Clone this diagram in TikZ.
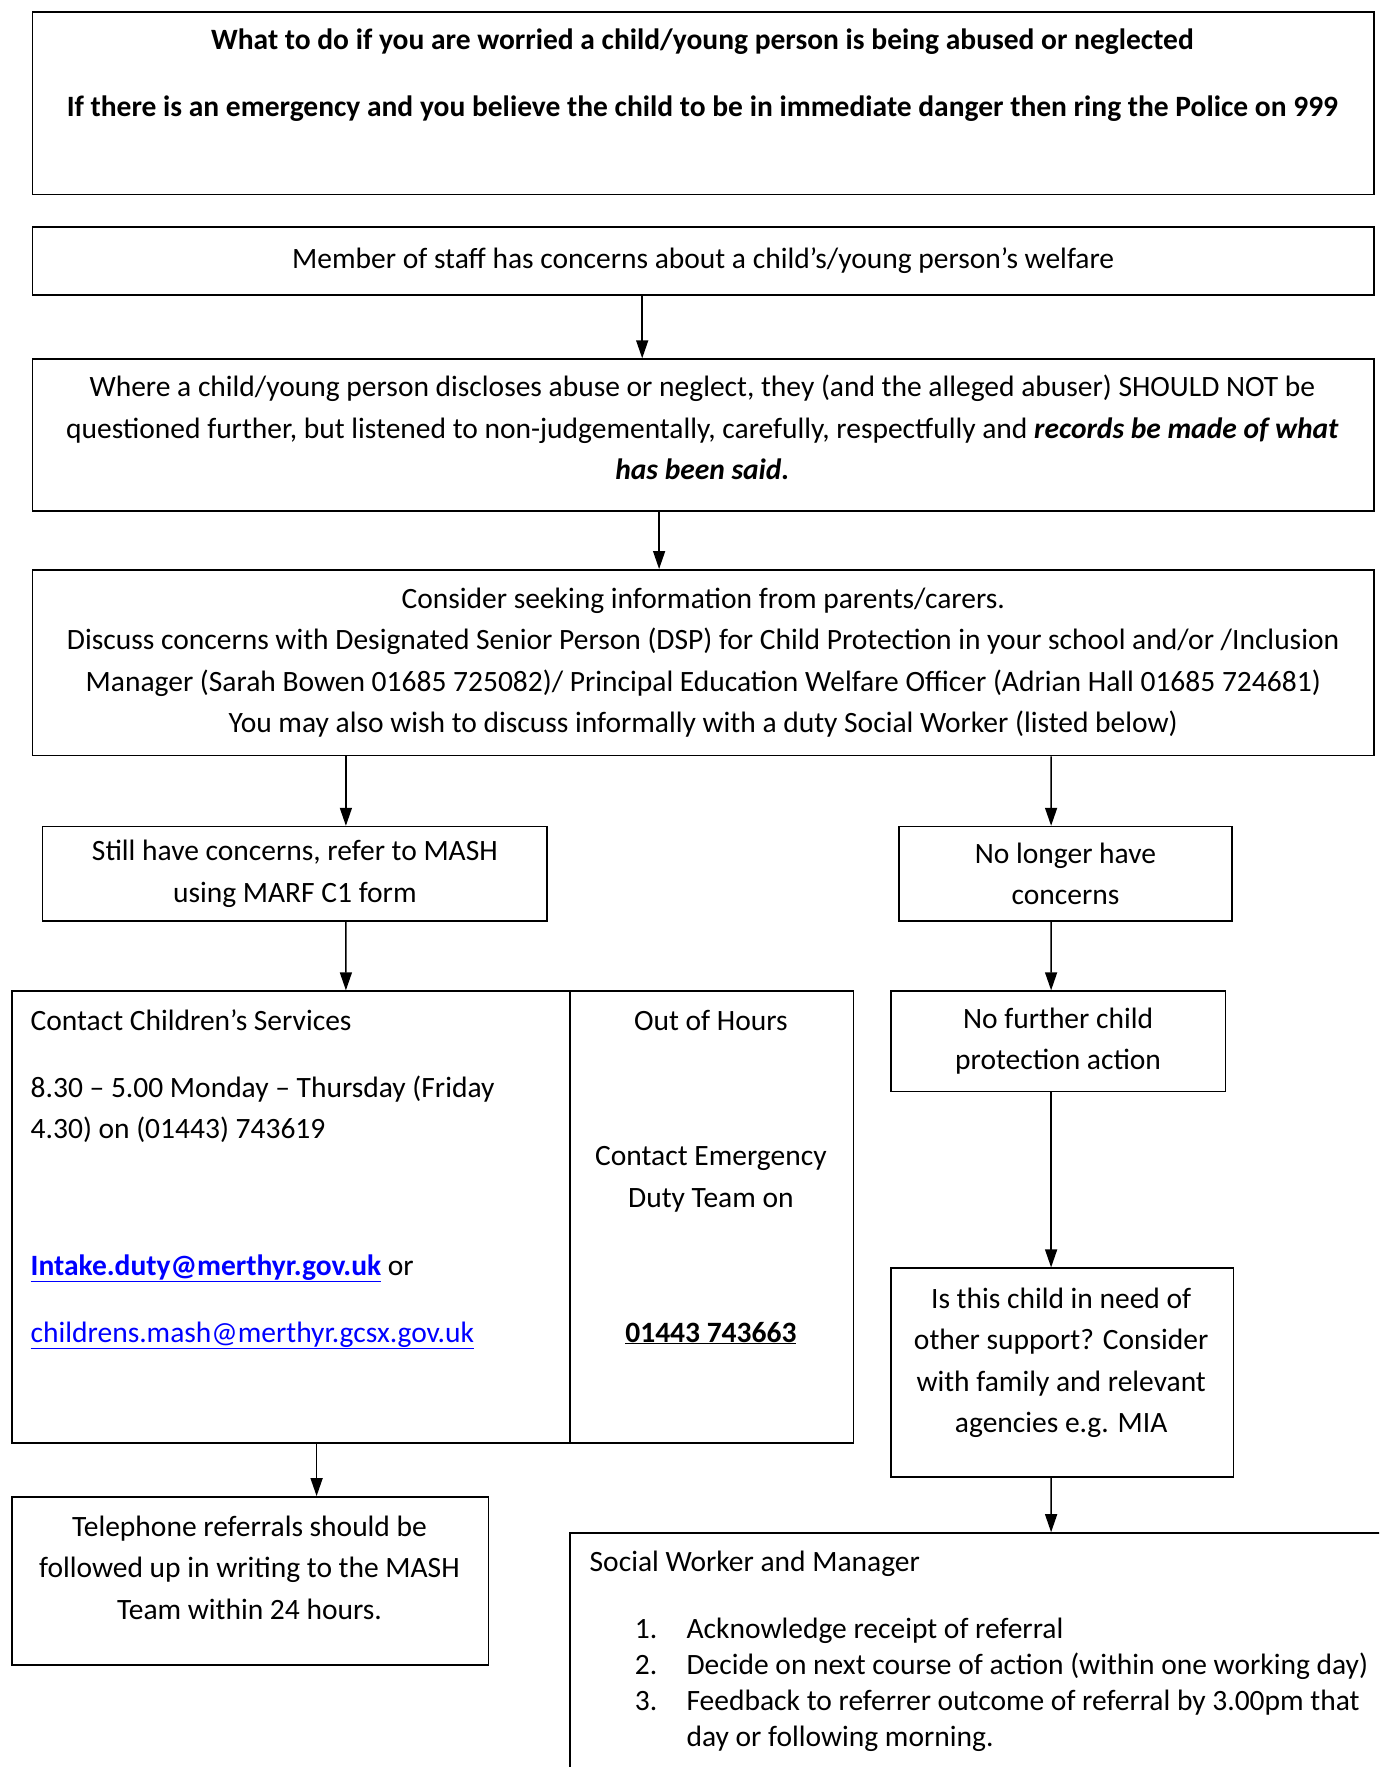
\documentclass[tikz,border=0pt]{standalone}
\usepackage{fontspec}
\setmainfont{Carlito}
\usetikzlibrary{arrows.meta}
\definecolor{lk}{RGB}{0, 0, 255}

\begin{document}
\begin{tikzpicture}[
  every node/.style={font=\fontsize{29.5pt}{41.5pt}\selectfont},
  box/.style={rectangle, draw=black, line width=1.6pt, anchor=north west, inner sep=0pt, align=center},
  txt/.style={inner sep=0pt, anchor=base},
  ltxt/.style={inner sep=0pt, anchor=base west},
  arr/.style={line width=1.5pt, -{Triangle[length=18pt, width=12pt]}}
]
\useasboundingbox (0pt, 0pt) rectangle (1379pt, -1767pt);
\node (top) [box, minimum width=1341.8pt, minimum height=182.5pt] at (31.5pt, -11.3pt) {};
\node (title) [txt] at (702.4pt, -49pt) {\textbf{What to do if you are worried a child/young person is being abused or neglected}};
\node (police) [txt] at (702.4pt, -116pt) {\textbf{If there is an emergency and you believe the child to be in immediate danger then ring the Police on 999}};
\node (staff) [box, minimum width=1341.8pt, minimum height=67.6pt] at (31.5pt, -226.4pt) {Member of staff has concerns about a child’s/young person’s welfare};
\node (disclose) [box, minimum width=1341.8pt, minimum height=152pt] at (31.5pt, -358.3pt) {};
\node (disclosetxt) [inner sep=0pt, align=center] at (702.4pt, -427.5pt) {Where a child/young person discloses abuse or neglect, they (and the alleged abuser) SHOULD NOT be\\questioned further, but listened to non-judgementally, carefully, respectfully and \textbf{\textit{records be made of what}}\\\textbf{\textit{has been said.}}};
\node (discuss) [box, minimum width=1341.8pt, minimum height=185.8pt] at (31.5pt, -569pt) {Consider seeking information from parents/carers.\\Discuss concerns with Designated Senior Person (DSP) for Child Protection in your school and/or /Inclusion\\Manager (Sarah Bowen 01685 725082)/ Principal Education Welfare Officer (Adrian Hall 01685 724681)\\You may also wish to discuss informally with a duty Social Worker (listed below)};
\node (refer) [box, minimum width=504.7pt, minimum height=94.6pt] at (41.7pt, -825.8pt) {Still have concerns, refer to MASH\\using MARF C1 form};
\node (nolonger) [box, minimum width=333.5pt, minimum height=94.6pt] at (897.9pt, -825.8pt) {No longer have\\concerns};
% contact boxes
\node (contact) [box, minimum width=557.6pt, minimum height=451.7pt] at (11.3pt, -990.3pt) {};
\node (hours) [box, minimum width=283.9pt, minimum height=451.7pt] at (568.9pt, -990.3pt) {};
\node (cs1) [ltxt] at (30.5pt, -1030pt) {Contact Children’s Services};
\node (cs2) [ltxt] at (30.5pt, -1097pt) {8.30 – 5.00 Monday – Thursday (Friday};
\node (cs3) [ltxt] at (30.5pt, -1138pt) {4.30) on (01443) 743619};
\node (cs4) [ltxt] at (30.5pt, -1275pt) {\textcolor{lk}{\underline{\textbf{Intake.duty@merthyr.gov.uk}}} or};
\node (cs5) [ltxt] at (30.5pt, -1342pt) {\textcolor{lk}{\underline{childrens.mash@merthyr.gcsx.gov.uk}}};
\node (oh1) [txt] at (710.9pt, -1030pt) {Out of Hours};
\node (oh2) [txt] at (710.9pt, -1165pt) {Contact Emergency};
\node (oh3) [txt] at (710.9pt, -1207pt) {Duty Team on};
\node (oh4) [txt] at (710.9pt, -1342pt) {\underline{\textbf{01443 743663}}};
% right column
\node (noaction) [box, minimum width=334.6pt, minimum height=100.2pt] at (890pt, -990.3pt) {No further child\\protection action};
\node (support) [box, minimum width=342.5pt, minimum height=208.5pt] at (890pt, -1267.4pt) {};
\node (supporttxt) [inner sep=0pt, align=center] at (1061.2pt, -1363pt) {Is this child in need of\\other support? Consider\\with family and relevant\\agencies e.g. MIA};
\node (phone) [box, minimum width=476.5pt, minimum height=167.9pt] at (11.3pt, -1496.1pt) {};
\node (phonetxt) [inner sep=0pt, align=center] at (249.5pt, -1567.4pt) {Telephone referrals should be\\followed up in writing to the MASH\\Team within 24 hours.};
\begin{scope}
\clip (0pt, 0pt) rectangle (1379pt, -1767pt);
\node (social) [box, minimum width=900pt, minimum height=400pt] at (568.9pt, -1532.2pt) {};
\end{scope}
\node (sw) [ltxt] at (589.5pt, -1571.5pt) {Social Worker and Manager};
\node (steps) [ltxt, font=\fontsize{29.5pt}{36pt}\selectfont] at (634.6pt, -1638pt) {\begin{tabular}[t]{@{}p{51.8pt}@{}l@{}}
1. & Acknowledge receipt of referral\\
2. & Decide on next course of action (within one working day)\\
3. & Feedback to referrer outcome of referral by 3.00pm that\\
   & day or following morning.
\end{tabular}};
% arrows
\draw [arr] ([xshift=610.7pt]staff.south west) -- ([xshift=610.7pt]disclose.north west);
\draw [arr] ([xshift=627.6pt]disclose.south west) -- ([xshift=627.6pt]discuss.north west);
\draw [arr] ([xshift=314.4pt]discuss.south west) -- ([xshift=304.2pt]refer.north west);
\draw [arr] ([xshift=1019.6pt]discuss.south west) -- ([xshift=153.2pt]nolonger.north west);
\draw [arr] ([xshift=304.2pt]refer.south west) -- ([xshift=334.6pt]contact.north west);
\draw [arr] ([xshift=153.2pt]nolonger.south west) -- ([xshift=161.1pt]noaction.north west);
\draw [arr] ([xshift=161.1pt]noaction.south west) -- ([xshift=161.1pt]support.north west);
\draw [arr] ([xshift=305.3pt]contact.south west) -- ([xshift=305.3pt]phone.north west);
\draw [arr] ([xshift=161.1pt]support.south west) -- ([xshift=482.2pt]social.north west);
\end{tikzpicture}
\end{document}
